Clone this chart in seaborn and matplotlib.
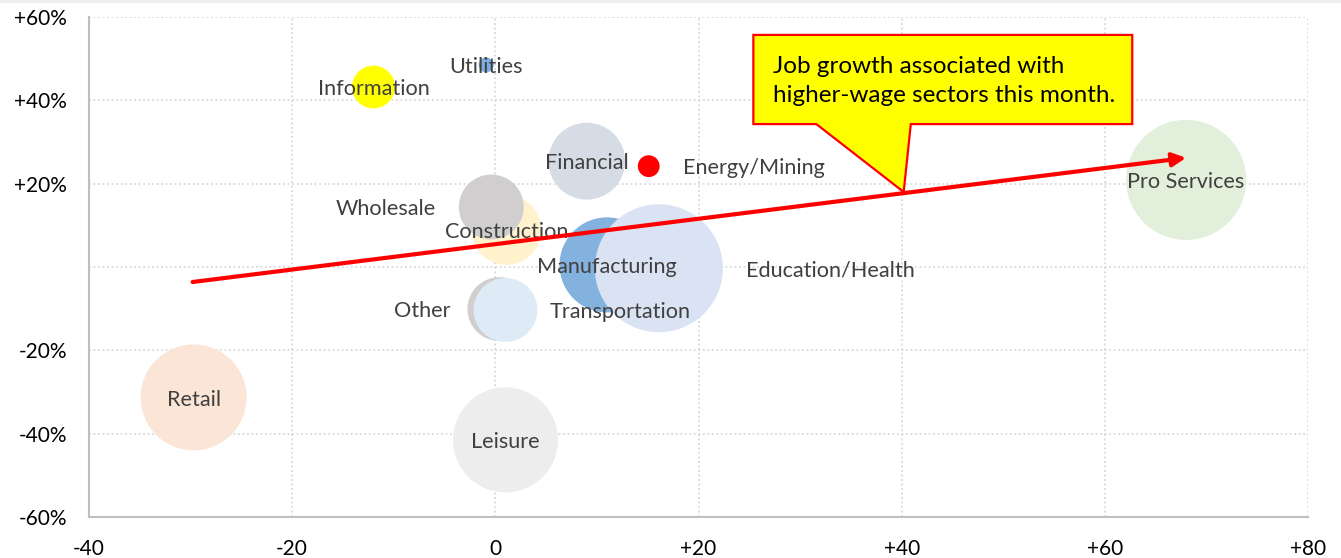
import numpy as np
import pandas as pd
import seaborn as sns
from matplotlib import pyplot as plt
from matplotlib.patches import Polygon, Rectangle
from matplotlib.ticker import FuncFormatter, MultipleLocator

# data
sectors = ['Retail', 'Leisure', 'Other', 'Transportation', 'Construction', 'Wholesale',
           'Manufacturing', 'Education/Health', 'Financial', 'Energy/Mining',
           'Information', 'Utilities', 'Pro Services']
job_change = [-29.7, 1, 0.4, 1, 1.1, -0.4, 11, 16.1, 9, 15.1, -12, -0.9, 68]
wage_pct = [-31.3, -41.5, -10.1, -10.3, 8.9, 14.4, 0.5, -0.3, 25.4, 24.2, 43.2, 48.5, 20.9]
employment = [16.5, 16.2, 6.0, 6.0, 7.2, 6.2, 13.3, 24.1, 8.7, 0.7, 2.7, 0.33, 21.2]
colors = ['#FBE5D6', '#EDEDED', '#D0CECE', '#DEEBF7', '#FFF2CC', '#D0CECE',
          '#84B2DE', '#DAE3F3', '#D6DCE5', '#FF0000', '#FFFF00', '#7DAEE0', '#E2EFDA']
trend_x = [-29.8, 68]
trend_y = [-3.6, 26.2]
callout = 'Job growth associated with\nhigher-wage sectors this month.'

df = pd.DataFrame({'sector': sectors, 'x': job_change, 'y': wage_pct, 'emp': employment})

sns.set_style('white')
plt.rcParams['font.family'] = ['Lato', 'DejaVu Sans']

fig = plt.figure(figsize=(13.41, 5.58), dpi=100)
ax = fig.add_axes([89 / 1341, 41 / 558, 1219 / 1341, 500 / 558])

# marker size (pt^2, i.e. diameter squared) per unit of employment
size_per_unit = 352.6
emax = max(employment)
sns.scatterplot(data=df, x='x', y='y', hue='sector', palette=dict(zip(sectors, colors)),
                size='emp', sizes=(0, size_per_unit * emax), size_norm=(0, emax),
                linewidth=0, alpha=1, legend=False, ax=ax, zorder=3)

# label placement: (ha, offset in points)
label_pos = {'Energy/Mining': ('left', 24.5), 'Education/Health': ('left', 63),
             'Transportation': ('left', 32), 'Wholesale': ('right', -40),
             'Other': ('right', -35)}
for s, x, y in zip(sectors, job_change, wage_pct):
    ha, dx = label_pos.get(s, ('center', 0))
    ax.annotate(s, (x, y), xytext=(dx, -1.5), textcoords='offset points', ha=ha, va='center',
                color='#404040', fontsize=15.6, zorder=5)

ax.annotate('', xy=(trend_x[1], trend_y[1]), xytext=(trend_x[0], trend_y[0]),
            arrowprops=dict(arrowstyle='-|>', color='red', lw=3, mutation_scale=20,
                            shrinkA=0, shrinkB=0), zorder=6)

# callout box with pointer to the trend line
bx0, bx1, by0, by1 = 25.4, 62.7, 34.3, 55.7
pts = [(bx0, by1), (bx1, by1), (bx1, by0), (40.9, by0), (40.2, 18.0), (31.6, by0), (bx0, by0)]
ax.add_patch(Polygon(pts, closed=True, fc='#FFFF00', ec='#FF0000', lw=1.6, zorder=7))
ax.text(27.3, 44.6, callout, ha='left', va='center', fontsize=17.5, linespacing=1.45,
        color='black', zorder=8)

ax.set_xlim(-40, 80)
ax.set_ylim(-60, 60)
ax.xaxis.set_major_locator(MultipleLocator(20))
ax.yaxis.set_major_locator(MultipleLocator(20))
ax.xaxis.set_major_formatter(FuncFormatter(lambda v, p: '0' if v == 0 else f'{v:+.0f}'))
ax.yaxis.set_major_formatter(FuncFormatter(lambda v, p: '' if v == 0 else f'{v:+.0f}%'))
ax.tick_params(length=0, labelsize=15, labelcolor='black')
ax.tick_params(axis='y', pad=16)
ax.tick_params(axis='x', pad=16)
ax.set_xlabel('')
ax.set_ylabel('')
ax.grid(True, color='#D9D9D9', linestyle=(0, (1, 1.5)), lw=1.3, zorder=0)
ax.set_axisbelow(True)
for side in ['top', 'right']:
    ax.spines[side].set_visible(False)
for side in ['left', 'bottom']:
    ax.spines[side].set_color('#BFBFBF')
    ax.spines[side].set_linewidth(1.5)

fig.add_artist(Rectangle((0, 1 - 3 / 558), 1, 3 / 558, transform=fig.transFigure,
                         color='#EFEFEF', lw=0))

fig.savefig('out.png', dpi=100)
